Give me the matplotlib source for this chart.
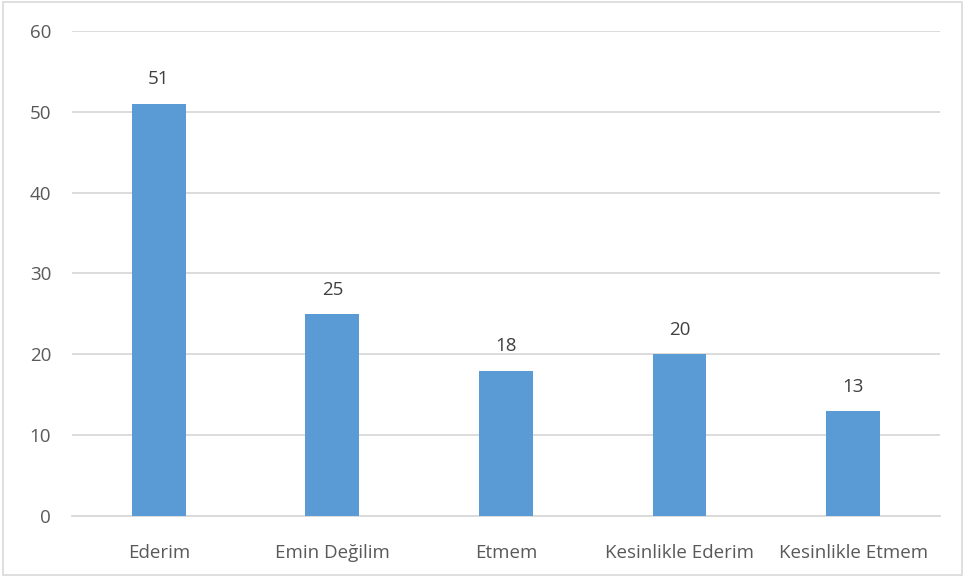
import matplotlib
matplotlib.use("Agg")
from matplotlib import pyplot as plt
from matplotlib.patches import Rectangle

categories = ["Ederim", "Emin Değilim", "Etmem", "Kesinlikle Ederim", "Kesinlikle Etmem"]
values = [51, 25, 18, 20, 13]
yticks = [0, 10, 20, 30, 40, 50, 60]

plt.rcParams['font.family'] = ['Open Sans', 'DejaVu Sans']
text_color = '#595959'

fig = plt.figure(figsize=(9.64, 5.77), dpi=100)
ax = fig.add_axes([0.0747, 0.1057, 0.9003, 0.8406])

x = list(range(len(categories)))
bars = ax.bar(x, values, width=0.31, color='#5B9BD5', zorder=3)

for xi, v in zip(x, values):
    ax.text(xi, v + 3.0, str(v), ha='center', va='center', fontsize=13.5, color='#404040')

ax.set_xlim(-0.5, len(categories) - 0.5)
ax.set_ylim(0, 60)
ax.set_yticks(yticks)
ax.set_xticks(x)
ax.set_xticklabels(categories)
ax.tick_params(axis='both', length=0, labelsize=13.5, colors=text_color)
ax.tick_params(axis='x', pad=20)
ax.tick_params(axis='y', pad=15)

ax.grid(axis='y', color='#D9D9D9', linewidth=1.3, zorder=0)
for s in ['top', 'right', 'left']:
    ax.spines[s].set_visible(False)
ax.spines['bottom'].set_color('#D9D9D9')
ax.spines['bottom'].set_linewidth(1.3)

# outer chart border
fig.patches.append(Rectangle((0.003, 0.004), 0.995, 0.992, transform=fig.transFigure,
                             fill=False, edgecolor='#D9D9D9', linewidth=1.2))

fig.savefig('out.png', dpi=100)
